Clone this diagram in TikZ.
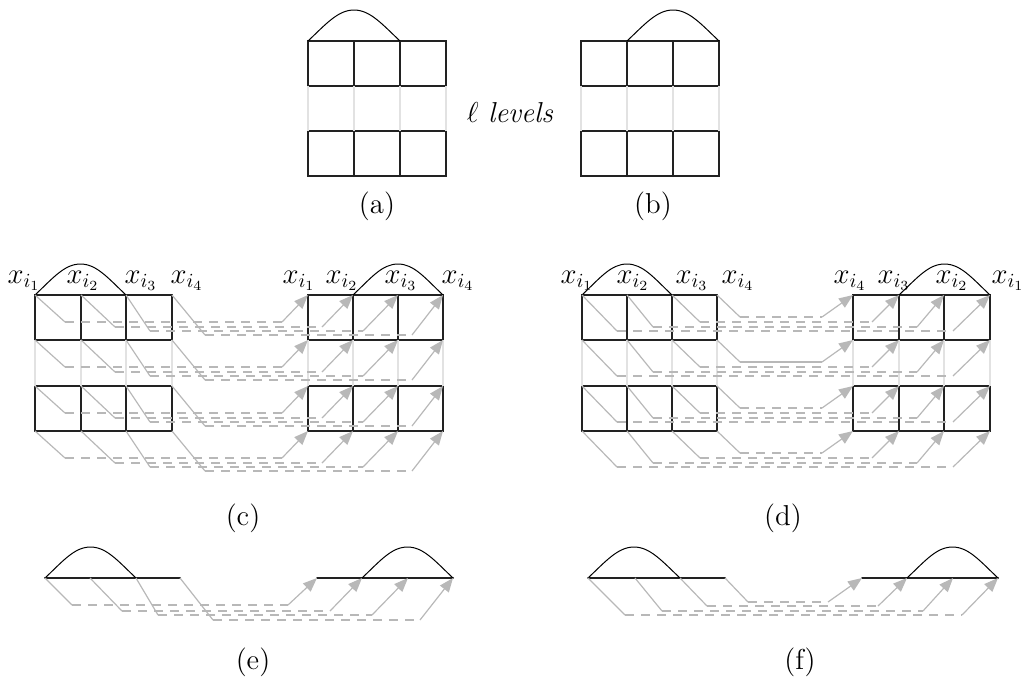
\documentclass[tikz,border=0pt]{standalone}
\usetikzlibrary{arrows.meta,calc}
\definecolor{ink}{HTML}{222222}
\definecolor{routegray}{HTML}{B8B8B8}
\definecolor{levelgray}{HTML}{E2E2E2}

\begin{document}
\begin{tikzpicture}[x=0.5pt,y=-0.5pt,>={Triangle[length=7pt,width=5.5pt]},
 cell/.style={draw=ink,line width=1pt,line cap=round},
 level/.style={draw=levelgray,line width=1pt},
 hump/.style={draw=black,line width=0.5pt},
 route/.style={draw=routegray,line width=0.6pt},
 routedash/.style={draw=routegray,line width=1pt,dash pattern=on 4.5pt off 3.5pt},
 vlabel/.style={font=\Large,anchor=base,inner sep=0pt},
 caption/.style={font=\Large}]
\useasboundingbox (0,0) rectangle (1022,676);

% grid corners (column j, row r)
\foreach \p/\xa/\xb/\xc/\xd/\ya/\yb/\yc/\yd in
  {pa/308/354/400/446/41/86/131/176, pb/581/627/673/719/41/86/131/176,
   cl/35/81/126/172/295/340/386/431, cr/308/353/398/443/295/340/386/431,
   dl/582/627/672/717/295/340/386/431, dr/990/944/899/853/295/340/386/431}
 \foreach \r/\y in {1/\ya,2/\yb,3/\yc,4/\yd} {
  \coordinate (\p-1-\r) at (\xa,\y);
  \coordinate (\p-2-\r) at (\xb,\y);
  \coordinate (\p-3-\r) at (\xc,\y);
  \coordinate (\p-4-\r) at (\xd,\y);
 }
% single-row corners for (e) and (f)
\foreach \p/\xa/\xb/\xc/\xd in {el/45/90/136/180, er/317/362/408/453,
   fl/588/635/680/725, fr/998/953/907/862} {
  \coordinate (\p-1) at (\xa,578);
  \coordinate (\p-2) at (\xb,578);
  \coordinate (\p-3) at (\xc,578);
  \coordinate (\p-4) at (\xd,578);
}

% blocks
\foreach \p in {pa,pb,cl,cr,dl,dr} {
  \draw[cell] (\p-1-1) rectangle (\p-4-2);
  \draw[cell] (\p-1-3) rectangle (\p-4-4);
  \foreach \j in {2,3} {
    \draw[cell] (\p-\j-1) -- (\p-\j-2);
    \draw[cell] (\p-\j-3) -- (\p-\j-4);
  }
  \foreach \j in {1,...,4}
    \draw[level] (\p-\j-2) -- (\p-\j-3);
}
\draw[cell] (el-1) -- (el-4);
\draw[cell] (er-1) -- (er-4);
\draw[cell] (fl-1) -- (fl-4);
\draw[cell] (fr-4) -- (fr-1);

% humps over two cells
\foreach \s/\e in {pa-1-1/pa-3-1, pb-2-1/pb-4-1, cl-1-1/cl-3-1, cr-2-1/cr-4-1,
   dl-1-1/dl-3-1, dr-3-1/dr-1-1, el-1/el-3, er-2/er-4, fl-1/fl-3, fr-3/fr-1}
  \draw[hump] (\s) .. controls +(18,-17) and +(-16,0)
    .. ($(\s)!0.5!(\e)+(0,-31)$) coordinate (peak)
    .. controls +(16,0) and +(-18,-17) .. (\e);

% routes in (c)
\foreach \j/\a/\d/\b in {1/30/27/26, 2/34/32/31, 3/24/36/35, 4/33/40/31}
 \foreach \r in {1,...,4} {
  \draw[route] (cl-\j-\r) -- ++(\a,\d) coordinate (bend);
  \draw[routedash] (bend) -- ($(cr-\j-\r)+(-\b,\d)$) coordinate (rise);
  \draw[route,->] (rise) -- (cr-\j-\r);
 }
% routes in (d)
\foreach \j/\a/\d/\b in {1/35/36/37, 2/26/32/27, 3/28/27/27, 4/23/22/31}
 \foreach \r in {1,...,4} {
  \def\seg{routedash}
  \ifnum\j=4 \ifnum\r=2 \def\seg{route}\fi\fi
  \draw[route] (dl-\j-\r) -- ++(\a,\d) coordinate (bend);
  \draw[\seg] (bend) -- ($(dr-\j-\r)+(-\b,\d)$) coordinate (rise);
  \draw[route,->] (rise) -- (dr-\j-\r);
 }
% routes in (e)
\foreach \j/\a/\d/\b in {1/27/27/29, 2/32/33/32, 3/22/37/36, 4/33/42/33} {
  \draw[route] (el-\j) -- ++(\a,\d) coordinate (bend);
  \draw[routedash] (bend) -- ($(er-\j)+(-\b,\d)$) coordinate (rise);
  \draw[route,->] (rise) -- (er-\j);
}
% routes in (f)
\foreach \j/\a/\d/\b in {1/37/37/36, 2/27/33/30, 3/27/28/29, 4/23/24/34} {
  \draw[route] (fl-\j) -- ++(\a,\d) coordinate (bend);
  \draw[routedash] (bend) -- ($(fr-\j)+(-\b,\d)$) coordinate (rise);
  \draw[route,->] (rise) -- (fr-\j);
}

% vertex labels
\foreach \p/\oa/\ob/\oc/\od in {cl/-11/2/15/15, cr/-9/-11/3/15,
   dl/-5/6/20/21, dr/18/8/-5/-3} {
  \node[vlabel] (\p-lab-1) at ($(\p-1-1)+(\oa,-12)$) {$x_{i_1}$};
  \node[vlabel] (\p-lab-2) at ($(\p-2-1)+(\ob,-12)$) {$x_{i_2}$};
  \node[vlabel] (\p-lab-3) at ($(\p-3-1)+(\oc,-12)$) {$x_{i_3}$};
  \node[vlabel] (\p-lab-4) at ($(\p-4-1)+(\od,-12)$) {$x_{i_4}$};
}

\node[caption] (levels) at (510,113) {$\ell$\ \textit{levels}};
\node[caption] (cap-a) at (377,206) {(a)};
\node[caption] (cap-b) at (653,206) {(b)};
\node[caption] (cap-c) at (243,518) {(c)};
\node[caption] (cap-d) at (783,518) {(d)};
\node[caption] (cap-e) at (253,662) {(e)};
\node[caption] (cap-f) at (800,662) {(f)};
\end{tikzpicture}
\end{document}
